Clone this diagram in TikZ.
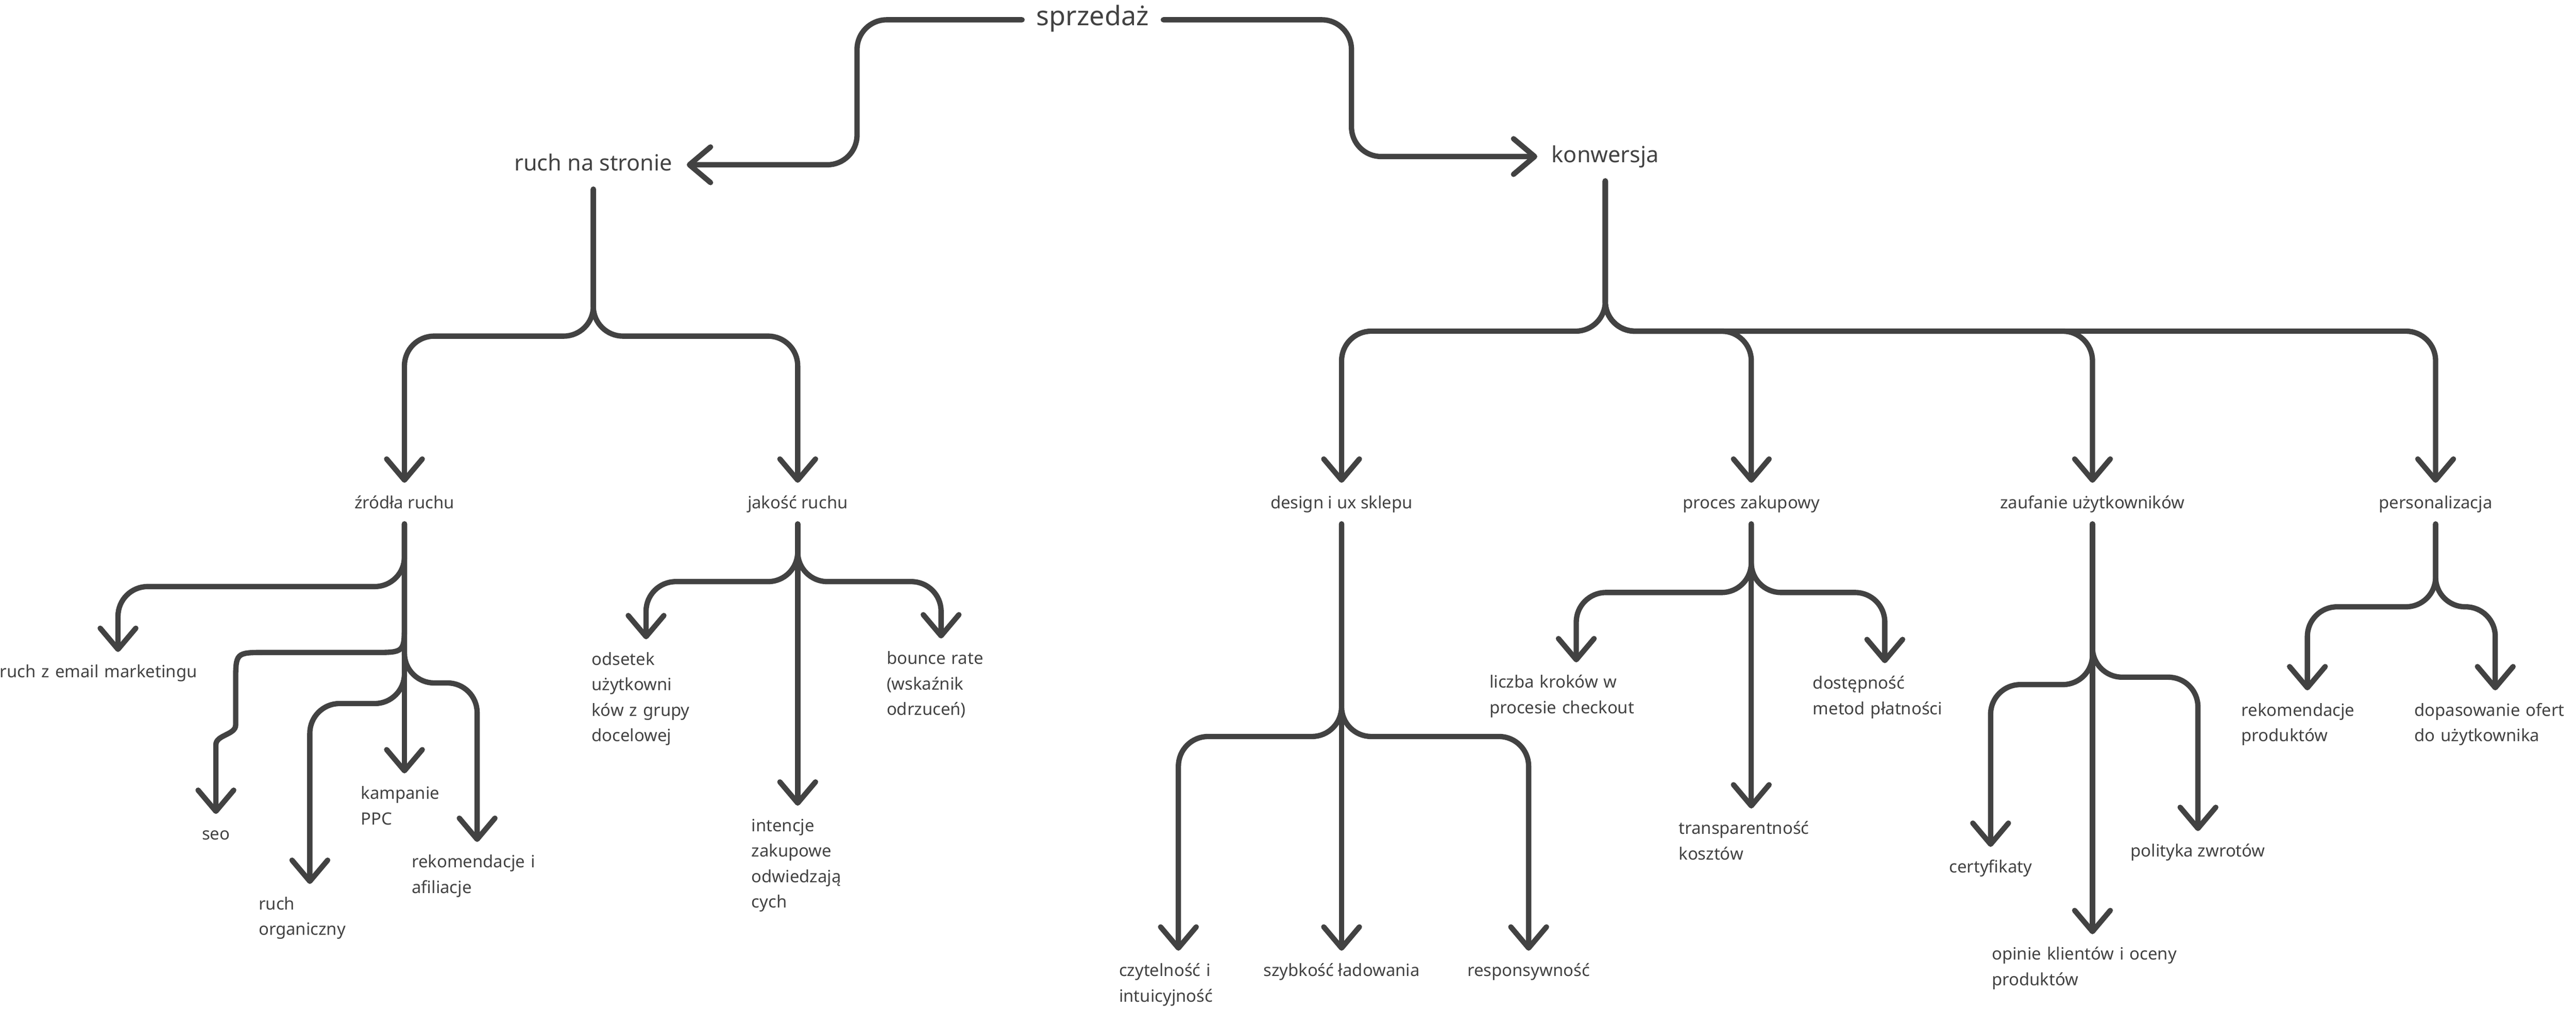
\documentclass[tikz,border=0pt]{standalone}
\usepackage{fontspec}
\setmainfont{Noto Sans}
\usetikzlibrary{arrows.meta}
\hyphenpenalty=10000
\exhyphenpenalty=10000
\definecolor{ink}{HTML}{424242}
\tikzstyle{arrow} = [draw=ink, line width=2.3pt, line cap=round, rounded corners=0.45cm, -{Straight Barb[round, length=3.2mm, width=5.4mm]}]
\tikzstyle{mainnode} = [text=ink, font=\fontsize{9.6}{11.5}\selectfont, text height=7pt, text depth=2pt, inner xsep=6pt, inner ysep=5.85pt]
\tikzstyle{rootnode} = [mainnode, font=\fontsize{11.6}{14}\selectfont]
\tikzstyle{leafnode} = [text=ink, font=\fontsize{7.3}{11}\selectfont, execute at begin node=\strut, anchor=north, inner xsep=0pt, inner ysep=3.2pt, align=left]

\begin{document}
\begin{tikzpicture}[x=0.025cm, y=-0.025cm]
\useasboundingbox (0,0) rectangle (1563,613);
\node (sprz) [rootnode] at (663,12) {sprzedaż};
\node (ruch) [mainnode] at (360,100) {ruch na stronie};
\node (konw) [mainnode] at (974,95) {konwersja};

\node (zrodla) [leafnode] at (245.4,293) {źródła ruchu};
\node (jakosc) [leafnode] at (484,293) {jakość ruchu};
\node (email) [leafnode, text width=3.58cm] at (71.6,395.7) {ruch z email marketingu};
\node (seo) [leafnode] at (131,494) {seo};
\node (organ) [leafnode, text width=1.55cm] at (188,536.5) {ruch\\organiczny};
\node (ppc) [leafnode, text width=1.32cm] at (245.4,469.4) {kampanie\\PPC};
\node (afil) [leafnode, text width=1.98cm] at (289.5,511) {rekomendacje i\\afiliacje};
\node (odset) [leafnode, text width=1.65cm] at (392,388) {odsetek\\użytkowni\\ków z grupy\\docelowej};
\node (intenc) [leafnode, text width=1.4cm] at (484,489) {intencje\\zakupowe\\odwiedzają\\cych};
\node (bounce) [leafnode, text width=1.65cm] at (571,387.5) {bounce rate\\(wskaźnik\\odrzuceń)};

\node (design) [leafnode] at (814,293) {design i ux sklepu};
\node (proces) [leafnode] at (1062.6,293) {proces zakupowy};
\node (zaufanie) [leafnode] at (1269.6,293) {zaufanie użytkowników};
\node (person) [leafnode] at (1477.8,293) {personalizacja};
\node (czyt) [leafnode, text width=1.8cm] at (715,577) {czytelność i\\intuicyjność};
\node (szybk) [leafnode] at (814,577) {szybkość ładowania};
\node (respons) [leafnode] at (927.5,577) {responsywność};
\node (kroki) [leafnode, text width=2.63cm] at (956.4,402) {liczba kroków w\\procesie checkout};
\node (koszty) [leafnode, text width=2.2cm] at (1062.6,490.7) {transparentność\\kosztów};
\node (platn) [leafnode, text width=2.18cm] at (1143.6,402.5) {dostępność\\metod płatności};
\node (certyf) [leafnode] at (1207.8,514) {certyfikaty};
\node (opinie) [leafnode, text width=3.05cm] at (1269.6,567) {opinie klientów i oceny\\produktów};
\node (zwroty) [leafnode] at (1333.6,504.4) {polityka zwrotów};
\node (rekprod) [leafnode, text width=2cm] at (1400,419) {rekomendacje\\produktów};
\node (oferty) [leafnode, text width=2.45cm] at (1514,419) {dopasowanie ofert\\do użytkownika};

\draw [arrow] (sprz.west) -- (520,12) -- (520,100) -- (ruch.east);
\draw [arrow] (sprz.east) -- (820,12) -- (820,95) -- (konw.west);

\draw [arrow] (ruch.south) -- (360,204) -- (245.4,204) -- (zrodla.north);
\draw [arrow] (ruch.south) -- (360,204) -- (484,204) -- (jakosc.north);
\draw [arrow] (zrodla.south) -- (245.4,356) -- (71.6,356) -- (email.north);
\draw [arrow, sharp corners] (zrodla.south) -- (245.4,378) .. controls (245.4,396) .. (227,396) -- (161,396) .. controls (143,396) .. (143,414) -- (143,440) .. controls (143,446) and (131,446) .. (131,452) -- (seo.north);
\draw [arrow] (zrodla.south) -- (245.4,427) -- (188,427) -- (organ.north);
\draw [arrow] (zrodla.south) -- (ppc.north);
\draw [arrow] (zrodla.south) -- (245.4,414.5) -- (289.5,414.5) -- (afil.north);
\draw [arrow] (jakosc.south) -- (484,353) -- (392,353) -- (odset.north);
\draw [arrow] (jakosc.south) -- (intenc.north);
\draw [arrow] (jakosc.south) -- (484,353) -- (571,353) -- (bounce.north);

\draw [arrow] (konw.south) -- (974,201) -- (814,201) -- (design.north);
\draw [arrow] (konw.south) -- (974,201) -- (1062.6,201) -- (proces.north);
\draw [arrow] (konw.south) -- (974,201) -- (1269.6,201) -- (zaufanie.north);
\draw [arrow] (konw.south) -- (974,201) -- (1477.8,201) -- (person.north);
\draw [arrow] (design.south) -- (814,447) -- (715,447) -- (czyt.north);
\draw [arrow] (design.south) -- (szybk.north);
\draw [arrow] (design.south) -- (814,447) -- (927.5,447) -- (respons.north);
\draw [arrow] (proces.south) -- (1062.6,359.6) -- (956.4,359.6) -- (kroki.north);
\draw [arrow] (proces.south) -- (koszty.north);
\draw [arrow] (proces.south) -- (1062.6,359.6) -- (1143.6,359.6) -- (platn.north);
\draw [arrow] (zaufanie.south) -- (1269.6,415.5) -- (1207.8,415.5) -- (certyf.north);
\draw [arrow] (zaufanie.south) -- (opinie.north);
\draw [arrow] (zaufanie.south) -- (1269.6,411) -- (1333.6,411) -- (zwroty.north);
\draw [arrow] (person.south) -- (1477.8,368.3) -- (1400,368.3) -- (rekprod.north);
\draw [arrow] (person.south) -- (1477.8,368.3) -- (1514,368.3) -- (oferty.north);
\end{tikzpicture}
\end{document}
